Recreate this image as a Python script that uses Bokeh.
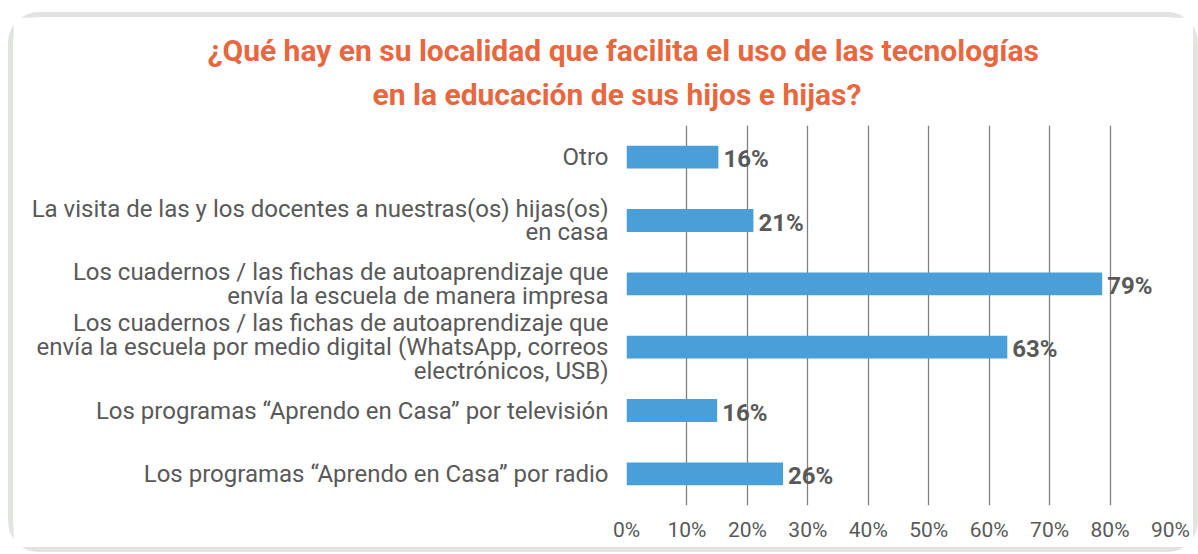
from bokeh.plotting import figure
from bokeh.models import ColumnDataSource, FactorRange, Range1d, FixedTicker, Title
from bokeh.core.properties import value
from bokeh.embed import file_html
from bokeh.resources import INLINE

# ---- data (top to bottom as in the picture) ----
categories = [
    "Otro",
    "La visita de las y los docentes a nuestras(os) hijas(os)\nen casa",
    "Los cuadernos / las fichas de autoaprendizaje que\nenvía la escuela de manera impresa",
    "Los cuadernos / las fichas de autoaprendizaje que\nenvía la escuela por medio digital (WhatsApp, correos\nelectrónicos, USB)",
    "Los programas “Aprendo en Casa” por televisión",
    "Los programas “Aprendo en Casa” por radio",
]
values = [15.2, 21.0, 78.7, 63.0, 15.0, 25.9]
value_labels = ["16%", "21%", "79%", "63%", "16%", "26%"]
ticks = [0, 10, 20, 30, 40, 50, 60, 70, 80, 90]
tick_labels = ["0%", "10%", "20%", "30%", "40%", "50%", "60%", "70%", "80%", "90%"]
title_line1 = "¿Qué hay en su localidad que facilita el uso de las tecnologías"
title_line2 = "en la educación de sus hijos e hijas?"

FONT = "Roboto"
GRAY = "#595959"
ORANGE = "#E9673F"

src = ColumnDataSource(dict(cat=categories, val=values, lab=value_labels))

p = figure(
    width=1180, height=530,
    y_range=FactorRange(factors=list(reversed(categories))),
    x_range=Range1d(0, 90),
    output_backend="svg", toolbar_location=None,
    min_border_left=613, min_border_right=23, min_border_top=108, min_border_bottom=42,
)
# rounded frame drawn as an outline so it does not change the canvas size
p.styles = {"outline": "5px solid #e2e4e2", "border-radius": "26px",
            "margin": "17px 0 0 13px"}

# second line added first so it sits closest to the plot
t2 = Title(text=title_line2, align="left", text_font=FONT, text_font_size="30px",
           text_font_style="bold", text_color=ORANGE, offset=-254, standoff=28,
           text_line_height=0.8)
t1 = Title(text=title_line1, align="left", text_font=FONT, text_font_size="30px",
           text_font_style="bold", text_color=ORANGE, offset=-419, standoff=-14)
p.add_layout(t2, "above")
p.add_layout(t1, "above")

p.hbar(y="cat", right="val", left=0, height=0.36, source=src, color="#4B9FD8", line_color=None)
p.text(x="val", y="cat", text="lab", source=src, x_offset=5, y_offset=2,
       text_font=value(FONT), text_font_size="24px", text_font_style="bold",
       text_color=GRAY, text_baseline="middle", text_align="left")

p.outline_line_color = None
p.ygrid.grid_line_color = None
p.xgrid.grid_line_color = "#808080"
p.xgrid.grid_line_width = 1.3
p.xgrid.ticker = FixedTicker(ticks=ticks)

p.xaxis.ticker = FixedTicker(ticks=ticks)
p.xaxis.major_label_overrides = {t_: l for t_, l in zip(ticks, tick_labels)}
p.xaxis.axis_line_color = None
p.xaxis.major_tick_line_color = None
p.xaxis.minor_tick_line_color = None
p.xaxis.major_label_standoff = 6
p.xaxis.major_label_text_font = FONT
p.xaxis.major_label_text_font_size = "21px"
p.xaxis.major_label_text_color = GRAY

p.yaxis.axis_line_color = None
p.yaxis.major_tick_line_color = None
p.yaxis.major_label_standoff = 12
p.yaxis.major_label_text_font = FONT
p.yaxis.major_label_text_font_size = "24px"
p.yaxis.major_label_text_color = GRAY
p.yaxis.major_label_text_line_height = 0.85

open("out.html", "w").write(file_html(p, INLINE))
